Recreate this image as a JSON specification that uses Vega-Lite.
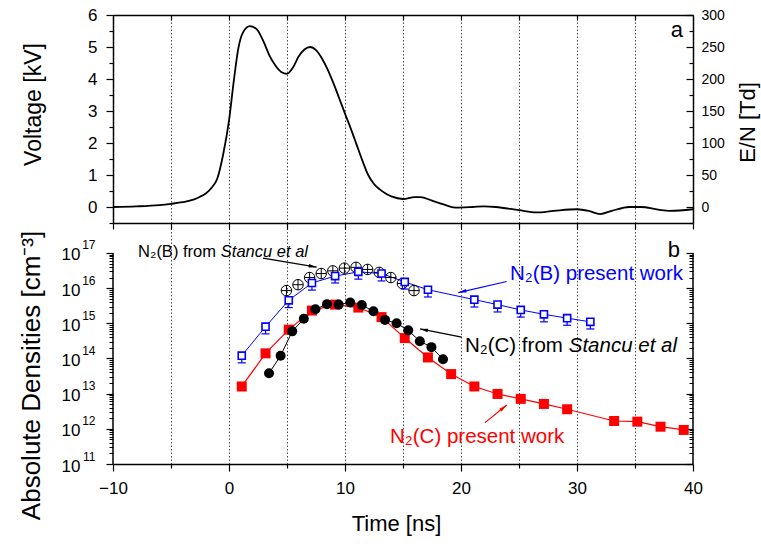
{
  "$schema": "https://vega.github.io/schema/vega-lite/v6.json",
  "padding": {"left": 18, "top": 6, "right": 2, "bottom": 2},
  "background": "white",
  "bounds": "flush",
  "spacing": 0,
  "config": {
    "view": {"stroke": null},
    "font": "Liberation Sans",
    "axis": {
      "labelFont": "Liberation Sans", "titleFont": "Liberation Sans",
      "labelFontSize": 17, "titleFontSize": 22, "titleFontWeight": "normal",
      "labelColor": "black", "titleColor": "black", "domainColor": "black", "tickColor": "black",
      "domainWidth": 1.5, "tickWidth": 1.2, "gridColor": "black", "gridDash": [1.5, 2], "gridWidth": 0.8, "gridOpacity": 0.9,
      "labelFlush": false, "labelOverlap": false, "grid": false
    }
  },
  "datasets": {
    "volt": [
      {"t": -10, "v": 0}, {"t": -8, "v": 0.02}, {"t": -6, "v": 0.06}, {"t": -5, "v": 0.1}, {"t": -4, "v": 0.15},
      {"t": -3, "v": 0.24}, {"t": -2.5, "v": 0.32}, {"t": -2, "v": 0.42}, {"t": -1.5, "v": 0.6}, {"t": -1, "v": 0.9},
      {"t": -0.5, "v": 1.65}, {"t": 0, "v": 2.7}, {"t": 0.4, "v": 3.9}, {"t": 0.8, "v": 4.95}, {"t": 1.2, "v": 5.45},
      {"t": 1.8, "v": 5.65}, {"t": 2.4, "v": 5.55}, {"t": 3, "v": 5.15}, {"t": 3.5, "v": 4.72}, {"t": 4, "v": 4.42},
      {"t": 4.5, "v": 4.22}, {"t": 5, "v": 4.16}, {"t": 5.5, "v": 4.35}, {"t": 6, "v": 4.7}, {"t": 6.5, "v": 4.92},
      {"t": 7, "v": 5.0}, {"t": 7.5, "v": 4.9}, {"t": 8, "v": 4.65}, {"t": 8.5, "v": 4.3}, {"t": 9, "v": 3.87},
      {"t": 9.5, "v": 3.4}, {"t": 10, "v": 2.92}, {"t": 10.5, "v": 2.45}, {"t": 11, "v": 1.95}, {"t": 11.5, "v": 1.45},
      {"t": 12, "v": 1.0}, {"t": 12.5, "v": 0.72}, {"t": 13, "v": 0.55}, {"t": 13.5, "v": 0.42}, {"t": 14, "v": 0.33},
      {"t": 15, "v": 0.25}, {"t": 16, "v": 0.31}, {"t": 16.5, "v": 0.31}, {"t": 17.5, "v": 0.2}, {"t": 18.5, "v": 0.08},
      {"t": 19.5, "v": -0.02}, {"t": 21, "v": 0.0}, {"t": 22, "v": 0.02}, {"t": 23, "v": 0.0}, {"t": 25, "v": -0.1},
      {"t": 26.5, "v": -0.17}, {"t": 28, "v": -0.12}, {"t": 30, "v": -0.07}, {"t": 31, "v": -0.12}, {"t": 32, "v": -0.22},
      {"t": 33, "v": -0.12}, {"t": 34.5, "v": 0.0}, {"t": 35.5, "v": 0.0}, {"t": 37, "v": -0.08}, {"t": 38, "v": -0.12},
      {"t": 40, "v": -0.07}
    ],
    "dens": [
      {"s": "Bpw", "t": 1.1, "n": 1.2e14, "lo": 7.5e13},
      {"s": "Bpw", "t": 3.15, "n": 8e14, "lo": 5e14},
      {"s": "Bpw", "t": 5.15, "n": 4.5e15, "lo": 2.8e15},
      {"s": "Bpw", "t": 7.15, "n": 1.4e16, "lo": 8.8e15},
      {"s": "Bpw", "t": 9.15, "n": 2.2e16, "lo": 1.4e16},
      {"s": "Bpw", "t": 11.15, "n": 2.9e16, "lo": 1.8e16},
      {"s": "Bpw", "t": 13.15, "n": 2.6e16, "lo": 1.6e16},
      {"s": "Bpw", "t": 15.15, "n": 1.5e16, "lo": 9.4e15},
      {"s": "Bpw", "t": 17.15, "n": 9e15, "lo": 5.6e15},
      {"s": "Bpw", "t": 21.15, "n": 4.7e15, "lo": 2.9e15},
      {"s": "Bpw", "t": 23.15, "n": 3.4e15, "lo": 2.1e15},
      {"s": "Bpw", "t": 25.15, "n": 2.4e15, "lo": 1.5e15},
      {"s": "Bpw", "t": 27.15, "n": 1.8e15, "lo": 1.1e15},
      {"s": "Bpw", "t": 29.15, "n": 1.4e15, "lo": 8.8e14},
      {"s": "Bpw", "t": 31.15, "n": 1.1e15, "lo": 6.9e14},
      {"s": "Cpw", "t": 1.1, "n": 1.6e13},
      {"s": "Cpw", "t": 3.15, "n": 1.4e14},
      {"s": "Cpw", "t": 5.15, "n": 6.6e14},
      {"s": "Cpw", "t": 7.15, "n": 2.3e15},
      {"s": "Cpw", "t": 9.15, "n": 3.4e15},
      {"s": "Cpw", "t": 11.15, "n": 2.8e15},
      {"s": "Cpw", "t": 13.15, "n": 1.5e15},
      {"s": "Cpw", "t": 15.15, "n": 3.8e14},
      {"s": "Cpw", "t": 17.15, "n": 1.07e14},
      {"s": "Cpw", "t": 19.15, "n": 3.6e13},
      {"s": "Cpw", "t": 21.15, "n": 1.6e13},
      {"s": "Cpw", "t": 23.15, "n": 9.8e12},
      {"s": "Cpw", "t": 25.15, "n": 7.1e12},
      {"s": "Cpw", "t": 27.15, "n": 5.1e12},
      {"s": "Cpw", "t": 29.15, "n": 3.6e12},
      {"s": "Cpw", "t": 33.2, "n": 1.67e12},
      {"s": "Cpw", "t": 35.2, "n": 1.6e12},
      {"s": "Cpw", "t": 37.2, "n": 1.15e12},
      {"s": "Cpw", "t": 39.2, "n": 9.3e11},
      {"s": "Cst", "t": 3.45, "n": 3.8e13},
      {"s": "Cst", "t": 4.45, "n": 1.2e14},
      {"s": "Cst", "t": 5.45, "n": 5.9e14},
      {"s": "Cst", "t": 6.45, "n": 1.35e15},
      {"s": "Cst", "t": 7.45, "n": 2.5e15},
      {"s": "Cst", "t": 8.45, "n": 3.5e15},
      {"s": "Cst", "t": 9.45, "n": 3.4e15},
      {"s": "Cst", "t": 10.45, "n": 3.9e15},
      {"s": "Cst", "t": 11.45, "n": 3.3e15},
      {"s": "Cst", "t": 12.45, "n": 2.2e15},
      {"s": "Cst", "t": 13.45, "n": 1.25e15},
      {"s": "Cst", "t": 14.45, "n": 1.0e15},
      {"s": "Cst", "t": 15.45, "n": 6.3e14},
      {"s": "Cst", "t": 16.45, "n": 3.1e14},
      {"s": "Cst", "t": 17.45, "n": 2.1e14},
      {"s": "Cst", "t": 18.45, "n": 9.5e13},
      {"s": "Bst", "t": 4.95, "n": 8.5e15},
      {"s": "Bst", "t": 5.95, "n": 1.25e16},
      {"s": "Bst", "t": 6.95, "n": 2.0e16},
      {"s": "Bst", "t": 7.95, "n": 2.6e16},
      {"s": "Bst", "t": 8.95, "n": 3.1e16},
      {"s": "Bst", "t": 9.95, "n": 3.7e16},
      {"s": "Bst", "t": 10.95, "n": 3.9e16},
      {"s": "Bst", "t": 11.95, "n": 3.4e16},
      {"s": "Bst", "t": 12.95, "n": 2.8e16},
      {"s": "Bst", "t": 13.95, "n": 2.0e16},
      {"s": "Bst", "t": 14.95, "n": 1.35e16},
      {"s": "Bst", "t": 15.95, "n": 8.5e15}
    ]
  },
  "vconcat": [
    {
      "width": 580,
      "height": 208,
      "layer": [
        {
          "data": {"name": "volt"},
          "mark": {"type": "line", "color": "black", "strokeWidth": 1.8, "interpolate": "monotone"},
          "encoding": {
            "x": {"field": "t", "type": "quantitative", "scale": {"domain": [-10, 40], "nice": false},
              "axis": {"orient": "bottom", "values": [-10, -5, 0, 5, 10, 15, 20, 25, 30, 35, 40], "labels": false, "tickSize": 6, "title": null}},
            "y": {"field": "v", "type": "quantitative", "scale": {"domain": [-0.5, 6], "nice": false},
              "axis": {"orient": "left", "values": [0, 1, 2, 3, 4, 5, 6],
                "labelExpr": "format(datum.value, 'd')", "tickSize": 7,
                "labelPadding": 9, "title": "Voltage [kV]", "titleFontSize": 23, "titlePadding": 42, "titleY": 89}}
          }
        },
        {
          "data": {"values": [{}]},
          "mark": {"type": "text", "text": "a", "fontSize": 22, "align": "right", "baseline": "alphabetic", "color": "black"},
          "encoding": {
            "x": {"datum": 39.14, "type": "quantitative", "scale": {"domain": [-10, 40], "nice": false},
              "axis": {"orient": "top", "values": [-5, 0, 5, 10, 15, 20, 25, 30, 35], "labels": false, "tickSize": -5, "grid": true, "title": null}},
            "y": {"datum": 5.32, "type": "quantitative", "scale": {"domain": [-0.5, 6], "nice": false},
              "axis": {"orient": "right", "values": [0, 1, 2, 3, 4, 5, 6],
                "labelExpr": "format(datum.value * 50, 'd')", "tickSize": -7,
                "labelPadding": 15, "labelFont": "Liberation Sans Narrow, Liberation Sans", "labelFontSize": 14,
                "title": "E/N [Td]", "titleAngle": 270, "titleBaseline": "top", "titlePadding": 13, "titleY": 107}}
          }
        },
        {
          "data": {"values": [{}]},
          "mark": {"type": "text", "text": ""},
          "encoding": {
            "x": {"datum": 0, "type": "quantitative", "axis": null},
            "y": {"datum": 0, "type": "quantitative",
              "axis": {"orient": "left", "values": [-0.5, 0.5, 1.5, 2.5, 3.5, 4.5, 5.5], "labels": false, "domain": false, "tickSize": 4, "title": null}}
          }
        },
        {
          "data": {"values": [{}]},
          "mark": {"type": "text", "text": ""},
          "encoding": {
            "x": {"datum": 0, "type": "quantitative", "axis": null},
            "y": {"datum": 0, "type": "quantitative",
              "axis": {"orient": "right", "values": [-0.5, 0.5, 1.5, 2.5, 3.5, 4.5, 5.5], "labels": false, "domain": false, "tickSize": -4, "title": null}}
          }
        }
      ],
      "resolve": {"axis": {"x": "independent", "y": "independent"}}
    },
    {
      "width": 580,
      "height": 241,
      "layer": [
        {
          "data": {"name": "dens"},
          "transform": [{"filter": "datum.s === 'Cpw'"}],
          "mark": {"type": "line", "color": "#ff0000", "strokeWidth": 1.2},
          "encoding": {
            "x": {"field": "t", "type": "quantitative", "scale": {"domain": [-10, 40], "nice": false},
              "axis": {"orient": "bottom", "values": [-10, 0, 10, 20, 30, 40],
                "labelExpr": "format(datum.value, 'd')", "tickSize": 7,
                "labelPadding": 9, "title": "Time [ns]", "titlePadding": 17, "titleX": 283}},
            "y": {"field": "n", "type": "quantitative", "scale": {"type": "log", "domain": [1e11, 7.1e17], "nice": false},
              "axis": {"orient": "left", "domain": false,
                "values": [1e11, 1e12, 1e13, 1e14, 1e15, 1e16, 1e17],
                "labelExpr": "'10'", "tickSize": 7, "tickWidth": 1.2,
                "labelPadding": 26, "labelOffset": 2,
                "title": "Absolute Densities [cm⁻³]", "titleFontSize": 26, "titlePadding": 17, "titleY": 152}}
          }
        },
        {
          "data": {"name": "dens"},
          "transform": [{"filter": "datum.s === 'Cst'"}],
          "mark": {"type": "line", "color": "black", "strokeWidth": 1},
          "encoding": {
            "x": {"field": "t", "type": "quantitative", "scale": {"domain": [-10, 40], "nice": false},
              "axis": {"orient": "top", "values": [-5, 0, 5, 10, 15, 20, 25, 30, 35], "grid": true, "domain": false, "ticks": false, "labels": false, "title": null}},
            "y": {"field": "n", "type": "quantitative", "scale": {"type": "log", "domain": [1e11, 7.1e17], "nice": false},
              "axis": {"orient": "left", "domain": false, "ticks": false, "tickSize": 0,
                "values": [1e11, 1e12, 1e13, 1e14, 1e15, 1e16, 1e17],
                "labelExpr": "'' + round(log(datum.value) / LN10)",
                "labelFontSize": 12, "labelPadding": 18, "labelOffset": -8, "title": null}}
          }
        },
        {
          "data": {"name": "dens"},
          "transform": [{"filter": "datum.s === 'Bpw'"}],
          "mark": {"type": "line", "color": "#0000ff", "strokeWidth": 1},
          "encoding": {
            "x": {"field": "t", "type": "quantitative", "scale": {"domain": [-10, 40], "nice": false}, "axis": null},
            "y": {"field": "n", "type": "quantitative", "scale": {"type": "log", "domain": [1e11, 7.1e17], "nice": false},
              "axis": {"orient": "right", "domain": false, "labels": false,
                "values": [1e11, 1e12, 1e13, 1e14, 1e15, 1e16, 1e17],
                "tickSize": -7, "tickWidth": 1.2, "title": null}}
          }
        },
        {
          "data": {"name": "dens"},
          "transform": [{"filter": "datum.s === 'Cpw'"}],
          "mark": {"type": "point", "shape": "square", "filled": true, "color": "#ff0000", "size": 100, "opacity": 1},
          "encoding": {
            "x": {"field": "t", "type": "quantitative", "axis": null},
            "y": {"field": "n", "type": "quantitative", "scale": {"type": "log"}, "axis": null}
          }
        },
        {
          "data": {"name": "dens"},
          "transform": [{"filter": "datum.s === 'Cst'"}],
          "mark": {"type": "point", "shape": "circle", "filled": true, "color": "black", "size": 100, "opacity": 1},
          "encoding": {
            "x": {"field": "t", "type": "quantitative", "axis": null},
            "y": {"field": "n", "type": "quantitative", "scale": {"type": "log"}, "axis": null}
          }
        },
        {
          "data": {"name": "dens"},
          "transform": [{"filter": "datum.s === 'Bst'"}],
          "mark": {"type": "point", "shape": "M-1,0A1,1 0 1,0 1,0A1,1 0 1,0 -1,0M-1,0L1,0M0,-1L0,1", "filled": false, "color": "black", "strokeWidth": 1, "size": 110, "opacity": 1},
          "encoding": {
            "x": {"field": "t", "type": "quantitative", "axis": null},
            "y": {"field": "n", "type": "quantitative", "scale": {"type": "log"}, "axis": null}
          }
        },
        {
          "data": {"name": "dens"},
          "transform": [{"filter": "datum.s === 'Bpw'"}],
          "mark": {"type": "rule", "color": "#0000ff", "strokeWidth": 1.2},
          "encoding": {
            "x": {"field": "t", "type": "quantitative", "axis": null},
            "y": {"field": "lo", "type": "quantitative", "scale": {"type": "log"}, "axis": null},
            "y2": {"field": "n"}
          }
        },
        {
          "data": {"name": "dens"},
          "transform": [{"filter": "datum.s === 'Bpw'"}],
          "mark": {"type": "point", "shape": "M-1,0L1,0", "filled": false, "color": "#0000ff", "strokeWidth": 1.2, "size": 64, "opacity": 1},
          "encoding": {
            "x": {"field": "t", "type": "quantitative", "axis": null},
            "y": {"field": "lo", "type": "quantitative", "scale": {"type": "log"}, "axis": null}
          }
        },
        {
          "data": {"name": "dens"},
          "transform": [{"filter": "datum.s === 'Bpw'"}],
          "mark": {"type": "point", "shape": "square", "filled": true, "fill": "white", "stroke": "#0000ff", "strokeWidth": 1.6, "size": 50, "opacity": 1},
          "encoding": {
            "x": {"field": "t", "type": "quantitative", "axis": null},
            "y": {"field": "n", "type": "quantitative", "scale": {"type": "log"}, "axis": null}
          }
        },
        {
          "data": {"values": [{}]},
          "mark": {"type": "rule", "color": "black", "strokeWidth": 1.5},
          "encoding": {
            "x": {"datum": -10, "type": "quantitative",
              "axis": {"orient": "bottom", "values": [-5, 5, 15, 25, 35], "labels": false, "domain": false, "tickSize": 4, "title": null}},
            "y": {"datum": 1e11, "type": "quantitative", "scale": {"type": "log"},
              "axis": {"orient": "left", "domain": false, "labels": false, "tickSize": 4, "tickWidth": 1, "title": null,
                "values": [2e11, 3e11, 4e11, 5e11, 6e11, 7e11, 8e11, 9e11, 2e12, 3e12, 4e12, 5e12, 6e12, 7e12, 8e12, 9e12, 2e13, 3e13, 4e13, 5e13, 6e13, 7e13, 8e13, 9e13, 2e14, 3e14, 4e14, 5e14, 6e14, 7e14, 8e14, 9e14, 2e15, 3e15, 4e15, 5e15, 6e15, 7e15, 8e15, 9e15, 2e16, 3e16, 4e16, 5e16, 6e16, 7e16, 8e16, 9e16]}},
            "y2": {"datum": 1e17}
          }
        },
        {
          "data": {"values": [{}]},
          "mark": {"type": "rule", "color": "black", "strokeWidth": 1.5},
          "encoding": {
            "x": {"datum": 40, "type": "quantitative", "axis": null},
            "y": {"datum": 1e11, "type": "quantitative", "scale": {"type": "log"},
              "axis": {"orient": "right", "domain": false, "labels": false, "tickSize": -4, "tickWidth": 1, "title": null,
                "values": [2e11, 3e11, 4e11, 5e11, 6e11, 7e11, 8e11, 9e11, 2e12, 3e12, 4e12, 5e12, 6e12, 7e12, 8e12, 9e12, 2e13, 3e13, 4e13, 5e13, 6e13, 7e13, 8e13, 9e13, 2e14, 3e14, 4e14, 5e14, 6e14, 7e14, 8e14, 9e14, 2e15, 3e15, 4e15, 5e15, 6e15, 7e15, 8e15, 9e15, 2e16, 3e16, 4e16, 5e16, 6e16, 7e16, 8e16, 9e16]}},
            "y2": {"datum": 1e17}
          }
        },
        {
          "data": {"values": [{}]},
          "mark": {"type": "text", "text": "N₂(B) from ", "fontSize": 16.5, "align": "left", "baseline": "alphabetic", "color": "black"},
          "encoding": {
            "x": {"datum": -7.84, "type": "quantitative", "axis": null},
            "y": {"datum": 7.9e16, "type": "quantitative", "scale": {"type": "log"}, "axis": null}
          }
        },
        {
          "data": {"values": [{}]},
          "mark": {"type": "text", "text": "Stancu et al", "fontStyle": "italic", "fontSize": 16.5, "align": "right", "baseline": "alphabetic", "color": "black"},
          "encoding": {
            "x": {"datum": 6.81, "type": "quantitative", "axis": null},
            "y": {"datum": 7.9e16, "type": "quantitative", "scale": {"type": "log"}, "axis": null}
          }
        },
        {
          "data": {"values": [{}]},
          "mark": {"type": "text", "text": "N₂(B) present work", "fontSize": 20.5, "align": "left", "baseline": "alphabetic", "color": "#0000ff"},
          "encoding": {
            "x": {"datum": 24.22, "type": "quantitative", "axis": null},
            "y": {"datum": 1.72e16, "type": "quantitative", "scale": {"type": "log"}, "axis": null}
          }
        },
        {
          "data": {"values": [{}]},
          "mark": {"type": "text", "text": "N₂(C) from ", "fontSize": 20.5, "align": "left", "baseline": "alphabetic", "color": "black"},
          "encoding": {
            "x": {"datum": 20.34, "type": "quantitative", "axis": null},
            "y": {"datum": 1.57e14, "type": "quantitative", "scale": {"type": "log"}, "axis": null}
          }
        },
        {
          "data": {"values": [{}]},
          "mark": {"type": "text", "text": "Stancu et al", "fontStyle": "italic", "fontSize": 20.5, "align": "right", "baseline": "alphabetic", "color": "black"},
          "encoding": {
            "x": {"datum": 38.62, "type": "quantitative", "axis": null},
            "y": {"datum": 1.57e14, "type": "quantitative", "scale": {"type": "log"}, "axis": null}
          }
        },
        {
          "data": {"values": [{}]},
          "mark": {"type": "text", "text": "N₂(C) present work", "fontSize": 20.5, "align": "left", "baseline": "alphabetic", "color": "#ff0000"},
          "encoding": {
            "x": {"datum": 13.88, "type": "quantitative", "axis": null},
            "y": {"datum": 3.95e11, "type": "quantitative", "scale": {"type": "log"}, "axis": null}
          }
        },
        {
          "data": {"values": [{}]},
          "mark": {"type": "text", "text": "b", "fontSize": 22, "align": "right", "baseline": "alphabetic", "color": "black"},
          "encoding": {
            "x": {"datum": 38.88, "type": "quantitative", "axis": null},
            "y": {"datum": 7.9e16, "type": "quantitative", "scale": {"type": "log"}, "axis": null}
          }
        },
        {
          "data": {"values": [{}]},
          "mark": {"type": "rule", "color": "black", "strokeWidth": 1.2},
          "encoding": {
            "x": {"datum": 2.93, "type": "quantitative", "axis": null}, "x2": {"datum": 7.56},
            "y": {"datum": 7.1e16, "type": "quantitative", "scale": {"type": "log"}, "axis": null}, "y2": {"datum": 3.95e16}
          }
        },
        {
          "data": {"values": [{}]},
          "mark": {"type": "point", "shape": "M0,0L0.45,2L-0.45,2Z", "filled": true, "color": "black", "size": 64, "angle": 99.5, "opacity": 1},
          "encoding": {
            "x": {"datum": 7.56, "type": "quantitative", "axis": null},
            "y": {"datum": 3.95e16, "type": "quantitative", "scale": {"type": "log"}, "axis": null}
          }
        },
        {
          "data": {"values": [{}]},
          "mark": {"type": "rule", "color": "#0000ff", "strokeWidth": 1.2},
          "encoding": {
            "x": {"datum": 23.94, "type": "quantitative", "axis": null}, "x2": {"datum": 19.77},
            "y": {"datum": 1.54e16, "type": "quantitative", "scale": {"type": "log"}, "axis": null}, "y2": {"datum": 7.46e15}
          }
        },
        {
          "data": {"values": [{}]},
          "mark": {"type": "point", "shape": "M0,0L0.45,2L-0.45,2Z", "filled": true, "color": "#0000ff", "size": 64, "angle": 257.2, "opacity": 1},
          "encoding": {
            "x": {"datum": 19.77, "type": "quantitative", "axis": null},
            "y": {"datum": 7.46e15, "type": "quantitative", "scale": {"type": "log"}, "axis": null}
          }
        },
        {
          "data": {"values": [{}]},
          "mark": {"type": "rule", "color": "black", "strokeWidth": 1.2},
          "encoding": {
            "x": {"datum": 20.06, "type": "quantitative", "axis": null}, "x2": {"datum": 16.47},
            "y": {"datum": 4.03e14, "type": "quantitative", "scale": {"type": "log"}, "axis": null}, "y2": {"datum": 6.93e14}
          }
        },
        {
          "data": {"values": [{}]},
          "mark": {"type": "point", "shape": "M0,0L0.45,2L-0.45,2Z", "filled": true, "color": "black", "size": 64, "angle": 281.3, "opacity": 1},
          "encoding": {
            "x": {"datum": 16.47, "type": "quantitative", "axis": null},
            "y": {"datum": 6.93e14, "type": "quantitative", "scale": {"type": "log"}, "axis": null}
          }
        },
        {
          "data": {"values": [{}]},
          "mark": {"type": "rule", "color": "#ff0000", "strokeWidth": 1.2},
          "encoding": {
            "x": {"datum": 22.07, "type": "quantitative", "axis": null}, "x2": {"datum": 23.94},
            "y": {"datum": 1.5e12, "type": "quantitative", "scale": {"type": "log"}, "axis": null}, "y2": {"datum": 4.76e12}
          }
        },
        {
          "data": {"values": [{}]},
          "mark": {"type": "point", "shape": "M0,0L0.45,2L-0.45,2Z", "filled": true, "color": "#ff0000", "size": 64, "angle": 50.8, "opacity": 1},
          "encoding": {
            "x": {"datum": 23.94, "type": "quantitative", "axis": null},
            "y": {"datum": 4.76e12, "type": "quantitative", "scale": {"type": "log"}, "axis": null}
          }
        }
      ],
      "resolve": {"axis": {"x": "independent", "y": "independent"}}
    }
  ]
}
